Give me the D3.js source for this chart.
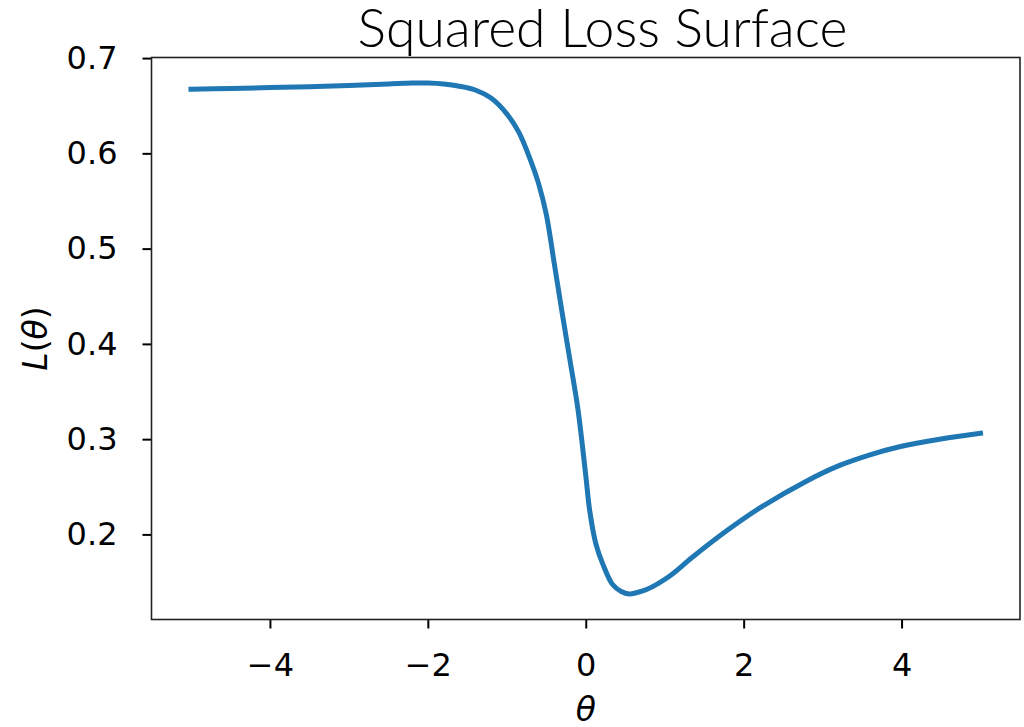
<!doctype html>
<html lang="en">
<head>
<meta charset="UTF-8">
<title>Squared Loss Surface</title>
<script src="https://d3js.org/d3.v7.min.js"></script>
<style>
body { margin: 0; background: #fff; }
svg { display: block; }
.axis path, .axis line { stroke: #000; }
.axis text { font-family: "DejaVu Sans", sans-serif; font-size: 32px; fill: #000; }
</style>
</head>
<body>
<div id="plot"></div>
<script>

// values
var theta = [-5.0, -4.5, -4.0, -3.5, -3.0, -2.5, -2.2, -2.0, -1.8, -1.6, -1.4, -1.2,
	-1.0, -0.85, -0.7, -0.6, -0.5, -0.4, -0.3, -0.2, -0.1, 0.0, 0.05, 0.13, 0.22,
	0.34, 0.45, 0.55, 0.65, 0.77, 1.06, 1.35, 1.78, 2.2, 2.8, 3.2, 3.6, 4.0, 4.5, 5.0];
var loss = [0.6674, 0.6682, 0.6690, 0.6700, 0.6712, 0.6728, 0.6738, 0.6738, 0.6728, 0.6705, 0.6665, 0.6580,
	0.6415, 0.6225, 0.5930, 0.5690, 0.5360, 0.4850, 0.4330, 0.3830, 0.3320, 0.2620, 0.2250, 0.1895, 0.1680,
	0.1474, 0.1400, 0.1375, 0.1390, 0.1421, 0.1561, 0.1760, 0.2035, 0.2275, 0.2561, 0.2719, 0.2835, 0.2925, 0.3002, 0.3062];
var xTicks = [-4, -2, 0, 2, 4];
var yTicks = [0.2, 0.3, 0.4, 0.5, 0.6, 0.7];

var width = 1024;
var height = 727;
var padLeft = 151.5, padRight = 1020, padTop = 57.5, padBottom = 619.5;

var data = theta.map(function (t, i) { return { t: t, l: loss[i] }; });

var svg = d3.select("#plot").append("svg")
	.attr("width", width)
	.attr("height", height);

// matplotlib style 5% margins
var xExt = d3.extent(theta), yExt = d3.extent(loss);
var xPad = (xExt[1] - xExt[0]) * 0.05, yPad = (yExt[1] - yExt[0]) * 0.05;

var xScale = d3.scaleLinear().domain([xExt[0] - xPad, xExt[1] + xPad]).range([padLeft, padRight]);
var yScale = d3.scaleLinear().domain([yExt[0] - yPad, yExt[1] + yPad]).range([padBottom, padTop]);

var line = d3.line()
	.x(function (d) { return xScale(d.t); })
	.y(function (d) { return yScale(d.l); })
	.curve(d3.curveCatmullRom.alpha(0.5));

svg.append("path")
	.attr("d", line(data))
	.style("fill", "none")
	.style("stroke", "#1f77b4")
	.style("stroke-width", 5)
	.style("stroke-linecap", "square");

var xAxis = d3.axisBottom(xScale).tickValues(xTicks).tickSize(9).tickPadding(25).tickSizeOuter(0);
var yAxis = d3.axisLeft(yScale).tickValues(yTicks).tickSize(9).tickPadding(25).tickSizeOuter(0)
	.tickFormat(d3.format(".1f"));

svg.append("g")
	.attr("class", "axis")
	.attr("transform", "translate(0," + padBottom + ")")
	.call(xAxis);
svg.append("g")
	.attr("class", "axis")
	.attr("transform", "translate(" + padLeft + ",0)")
	.call(yAxis);

svg.selectAll(".axis .domain").remove();
svg.selectAll(".axis .tick line").style("stroke-width", 2);

// frame
svg.append("rect")
	.attr("x", padLeft)
	.attr("y", padTop)
	.attr("width", padRight - padLeft)
	.attr("height", padBottom - padTop)
	.style("fill", "none")
	.style("stroke", "#222")
	.style("stroke-width", 1.6);

// title
var title = svg.append("text")
	.attr("x", 602.5)
	.attr("y", 47)
	.attr("text-anchor", "middle")
	.style("font-family", "'Lato', 'DejaVu Sans', sans-serif")
	.style("font-weight", 300)
	.style("font-size", "40px")
	.style("fill", "#000")
	.text("Squared Loss Surface");
var tw = title.node().getComputedTextLength();
title.style("font-size", (40 * 490 / tw) + "px");

// x label
svg.append("text")
	.attr("x", (padLeft + padRight) / 2)
	.attr("y", 721)
	.attr("text-anchor", "middle")
	.style("font-family", "'DejaVu Sans', sans-serif")
	.style("font-style", "italic")
	.style("font-size", "33px")
	.text("θ");

// y label
var yl = svg.append("text")
	.attr("transform", "translate(47," + ((padTop + padBottom) / 2) + ") rotate(-90)")
	.attr("text-anchor", "middle")
	.style("font-family", "'DejaVu Sans', sans-serif")
	.style("font-size", "33px");
yl.append("tspan").style("font-style", "italic").text("L");
yl.append("tspan").text("(");
yl.append("tspan").style("font-style", "italic").text("θ");
yl.append("tspan").text(")");

</script>
</body>
</html>
